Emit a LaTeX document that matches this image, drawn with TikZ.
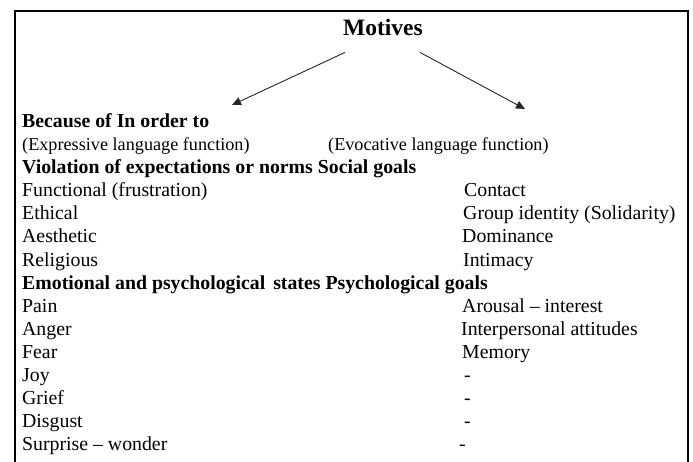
\documentclass[tikz,border=0pt]{standalone}
\usepackage{fontspec}
\setmainfont{Liberation Serif}
\usetikzlibrary{arrows.meta}

\tikzset{
    row/.style = {anchor=base west, inner sep=0pt, font=\fontsize{19.8}{23}\selectfont},
    boldrow/.style = {anchor=base west, inner sep=0pt, font=\fontsize{19.8}{23}\selectfont\bfseries},
    note/.style = {anchor=base west, inner sep=0pt, font=\fontsize{18.2}{22}\selectfont},
    motarrow/.style = {-{Triangle[length=9pt, width=8pt]}, line width=0.9pt, black!85}
}

\begin{document}
\begin{tikzpicture}[x=1pt, y=-1pt]
    \useasboundingbox (0,0) rectangle (693,462);
    \draw[line width=2pt] (15,462) -- (15,11) -- (688,11) -- (688,462);

    \node[anchor=base, inner sep=0pt, font=\fontsize{23.5}{28}\selectfont\bfseries] (mot) at (383,36) {Motives};
    \coordinate (ltip) at (232,105);
    \coordinate (rtip) at (525,109);
    \draw[motarrow] ([xshift=-38pt, yshift=-16pt]mot.south) -- (ltip);
    \draw[motarrow] ([xshift=37pt, yshift=-16pt]mot.south) -- (rtip);

    % left column
    \node[boldrow] (because) at (22,128) {Because of In order to};
    \node[note] (expr) at (22,151) {(Expressive language function)};
    \node[boldrow] (viol) at (22,174) {Violation of expectations or norms Social goals};
    \node[row] (func) at (22,197) {Functional (frustration)};
    \node[row] (eth) at (22,220) {Ethical};
    \node[row] (aes) at (22,243) {Aesthetic};
    \node[row] (rel) at (22,266) {Religious};
    \node[boldrow] (emo) at (22,289) {Emotional and psychological\hspace{3pt} states Psychological goals};
    \node[row] (pain) at (22,312) {Pain};
    \node[row] (anger) at (22,335) {Anger};
    \node[row] (fear) at (22,358) {Fear};
    \node[row] (joy) at (22,381) {Joy};
    \node[row] (grief) at (22,404) {Grief};
    \node[row] (disg) at (22,427) {Disgust};
    \node[row] (surp) at (22,450) {Surprise – wonder};

    % right column
    \node[note] (evoc) at (328,151) {(Evocative language function)};
    \node[row] (cont) at (464,197) {Contact};
    \node[row] (group) at (463,220) {Group identity (Solidarity)};
    \node[row] (dom) at (462,243) {Dominance};
    \node[row] (intim) at (463,266) {Intimacy};
    \node[row] (arou) at (462,312) {Arousal – interest};
    \node[row] (inter) at (461,335) {Interpersonal attitudes};
    \node[row] (mem) at (462,358) {Memory};
    \node[row] (da) at (464,381) {-};
    \node[row] (db) at (464,404) {-};
    \node[row] (dc) at (464,427) {-};
    \node[row] (dd) at (459,450) {-};
\end{tikzpicture}
\end{document}
